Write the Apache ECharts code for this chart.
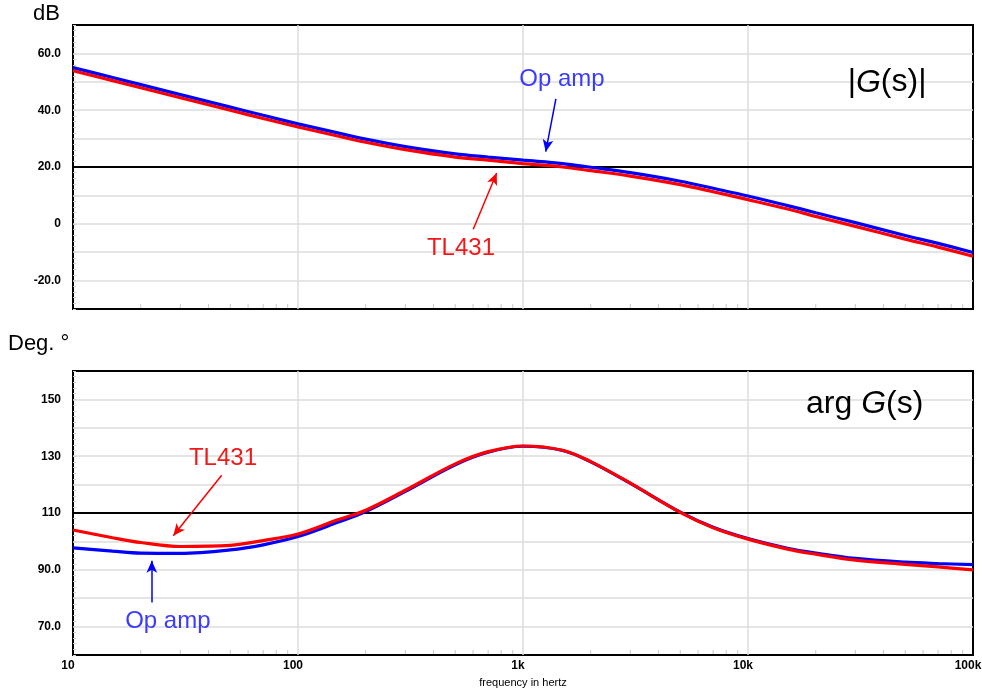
<!DOCTYPE html>
<html>
<head>
<meta charset="utf-8">
<script src="https://cdn.jsdelivr.net/npm/echarts@6/dist/echarts.min.js"></script>
<style>
  html, body { margin: 0; padding: 0; background: #ffffff; }
  #chart { width: 982px; height: 693px; }
</style>
</head>
<body>
<div id="chart"></div>
<script>
// Frequency points (Hz)
const freq = [10, 15, 20, 30, 50, 70, 100, 150, 200, 300, 500, 700, 1000,
  1500, 2000, 3000, 5000, 7000, 10000, 15000, 20000, 30000, 50000, 70000, 100000];

// Magnitude |G(s)| in dB
const gainOpAmp = [55.0, 51.5, 49.0, 45.5, 41.1, 38.2, 35.2, 32.0, 29.8, 27.2, 24.6, 23.5, 22.4,
  21.2, 19.9, 18.0, 15.0, 12.5, 9.8, 6.4, 3.9, 0.4, -4.1, -6.9, -10.1];
const gainTL431 = [53.9, 50.4, 47.9, 44.4, 40.0, 37.1, 34.1, 30.9, 28.7, 26.1, 23.5, 22.4, 21.2,
  20.0, 18.7, 16.8, 13.8, 11.3, 8.5, 5.2, 2.6, -0.9, -5.4, -8.2, -11.4];

// Phase arg G(s) in degrees
const phaseOpAmp = [97.7, 96.6, 95.9, 95.8, 97.0, 98.8, 101.7, 106.7, 110.5, 117.6, 127.0, 131.4, 133.5,
  132.0, 128.0, 120.4, 110.3, 105.0, 101.0, 97.6, 95.9, 94.0, 92.7, 92.2, 91.8];
const phaseTL431 = [104.0, 101.3, 99.6, 98.2, 98.6, 100.3, 102.6, 107.6, 111.0, 118.0, 127.3, 131.6, 133.6,
  132.1, 128.1, 120.5, 110.2, 104.8, 100.8, 97.3, 95.5, 93.4, 91.9, 91.0, 90.0];

// Reference levels drawn as bold horizontal lines
const gainRef = 20;
const phaseRef = 110;

// Axis tick labels
const freqTickValues = [10, 100, 1000, 10000, 100000];
const freqTickLabels = ['10', '100', '1k', '10k', '100k'];
const gainTickValues = [-20, 0, 20, 40, 60];
const gainTickLabels = ['-20.0', '0', '20.0', '40.0', '60.0'];
const phaseTickValues = [70, 90, 110, 130, 150];
const phaseTickLabels = ['70.0', '90.0', '110', '130', '150'];

const pair = (ys) => freq.map((f, i) => [f, ys[i]]);

// Minor log ticks 2..9 within each decade
const minorFreqs = [];
for (let d = 10; d < 100000; d *= 10) {
  for (let k = 2; k <= 9; k++) minorFreqs.push(d * k);
}

const BLUE = '#0000ff';
const RED = '#ff0000';
const TXT_BLUE = '#3b3bff';
const TXT_RED = '#f01818';
const GRIDLINE = '#dddddd';
const FONT = '"Liberation Sans", Arial, sans-serif';

function lookup(values, labels) {
  return (v) => {
    const i = values.findIndex((x) => Math.abs(x - v) < 1e-6 * Math.max(1, Math.abs(x)));
    return i >= 0 ? labels[i] : '';
  };
}

function xAxisFor(gridIndex, showLabels) {
  return {
    type: 'log', logBase: 10, gridIndex, min: 10, max: 100000,
    axisLine: { show: false },
    axisTick: { show: false },
    splitLine: { show: true, showMinLine: false, showMaxLine: false, lineStyle: { color: GRIDLINE, width: 1.5 } },
    axisLabel: {
      show: showLabels, margin: 5, padding: [0, 10, 0, 0],
      formatter: lookup(freqTickValues, freqTickLabels),
      color: '#000', fontSize: 12, fontWeight: 'bold',
      fontFamily: '"Liberation Sans Narrow", "Liberation Sans", Arial, sans-serif'
    },
    name: showLabels ? 'frequency in hertz' : '',
    nameLocation: 'middle', nameGap: 22,
    nameTextStyle: { color: '#000', fontSize: 11, fontFamily: FONT }
  };
}

function yAxisFor(gridIndex, min, max, values, labels) {
  return {
    type: 'value', gridIndex, min, max, interval: 10,
    axisLine: { show: false },
    axisTick: { show: true, inside: true, length: 3, lineStyle: { color: '#cccccc' } },
    minorTick: { show: true, splitNumber: 5, length: 3, lineStyle: { color: '#cccccc' } },
    splitLine: { show: true, showMinLine: false, showMaxLine: false, lineStyle: { color: GRIDLINE, width: 1.5 } },
    axisLabel: {
      margin: 12, formatter: lookup(values, labels),
      color: '#000', fontSize: 12, fontWeight: 'bold', fontFamily: FONT
    }
  };
}

function curve(name, ys, color, xi, z) {
  return {
    name, type: 'line', xAxisIndex: xi, yAxisIndex: xi, z,
    data: pair(ys), smooth: 0.35, showSymbol: false, symbol: 'none',
    lineStyle: { color, width: 3.2 }, itemStyle: { color }
  };
}

function refLine(level, xi) {
  return {
    type: 'line', xAxisIndex: xi, yAxisIndex: xi, z: 1,
    data: [[10, level], [100000, level]], showSymbol: false, symbol: 'none',
    lineStyle: { color: '#000', width: 2 }
  };
}

function minorTicks(xi, yMin) {
  return {
    type: 'scatter', xAxisIndex: xi, yAxisIndex: xi, z: 1, silent: true,
    data: minorFreqs.map((f) => [f, yMin]),
    symbol: 'rect', symbolSize: [1, 4], symbolOffset: [0, -3],
    itemStyle: { color: '#bbbbbb' }
  };
}

function arrow(color, from, to) {
  return {
    silent: true, animation: false,
    symbol: ['none', 'arrow'], symbolSize: [8, 12],
    lineStyle: { color, width: 1.5, type: 'solid' },
    label: { show: false },
    emphasis: { disabled: true },
    data: [[{ coord: from }, { coord: to }]]
  };
}

function note(text, coord, color, size, rich) {
  return {
    coord, symbol: 'circle', symbolSize: 0,
    label: {
      show: true, position: 'inside', formatter: text,
      color, fontSize: size, fontFamily: FONT,
      rich: rich || {}
    }
  };
}

const italicG = (size) => ({ i: { fontStyle: 'italic', fontSize: size, color: '#000', fontFamily: FONT } });

const opAmpGain = curve('Op amp', gainOpAmp, BLUE, 0, 2);
opAmpGain.markLine = arrow(BLUE, [1400, 44.0], [1262, 25.4]);
opAmpGain.markPoint = { silent: true, data: [note('Op amp', [1490, 50.7], TXT_BLUE, 24)] };

const tlGain = curve('TL431', gainTL431, RED, 0, 3);
tlGain.markLine = arrow(RED, [601, -1.9], [764, 17.9]);
tlGain.markPoint = { silent: true, data: [
  note('TL431', [530, -8.8], TXT_RED, 24),
  note('|{i|G}(s)|', [41500, 49.7], '#000', 32, italicG(32))
] };

const opAmpPhase = curve('Op amp', phaseOpAmp, BLUE, 1, 2);
opAmpPhase.markLine = arrow(BLUE, [22.4, 78.5], [22.4, 93.2]);
opAmpPhase.markPoint = { silent: true, data: [note('Op amp', [26.4, 71.8], TXT_BLUE, 24)] };

const tlPhase = curve('TL431', phaseTL431, RED, 1, 3);
tlPhase.markLine = arrow(RED, [45.8, 123.3], [27.9, 102.0]);
tlPhase.markPoint = { silent: true, data: [
  note('TL431', [46.4, 129.3], TXT_RED, 24),
  note('arg {i|G}(s)', [33000, 148.2], '#000', 32, italicG(32))
] };

const gridBase = { left: 73, width: 900, height: 284, show: true, borderColor: '#000', borderWidth: 2,
  backgroundColor: 'transparent', containLabel: false, outerBoundsMode: 'none' };

const chart = echarts.init(document.getElementById('chart'), null, { renderer: 'canvas' });
chart.setOption({
  animation: false,
  backgroundColor: '#ffffff',
  grid: [
    Object.assign({ top: 25 }, gridBase),
    Object.assign({ top: 371 }, gridBase)
  ],
  xAxis: [xAxisFor(0, false), xAxisFor(1, true)],
  yAxis: [
    yAxisFor(0, -30, 70, gainTickValues, gainTickLabels),
    yAxisFor(1, 60, 160, phaseTickValues, phaseTickLabels)
  ],
  graphic: [
    { type: 'text', left: 33, top: 3, style: { text: 'dB', fontSize: 22, fill: '#000', fontFamily: FONT } },
    { type: 'text', left: 8, top: 333, style: { text: 'Deg. °', fontSize: 22, fill: '#000', fontFamily: FONT } }
  ],
  series: [
    refLine(gainRef, 0), refLine(phaseRef, 1),
    minorTicks(0, -30), minorTicks(1, 60),
    opAmpGain, tlGain, opAmpPhase, tlPhase
  ]
});
</script>
</body>
</html>
